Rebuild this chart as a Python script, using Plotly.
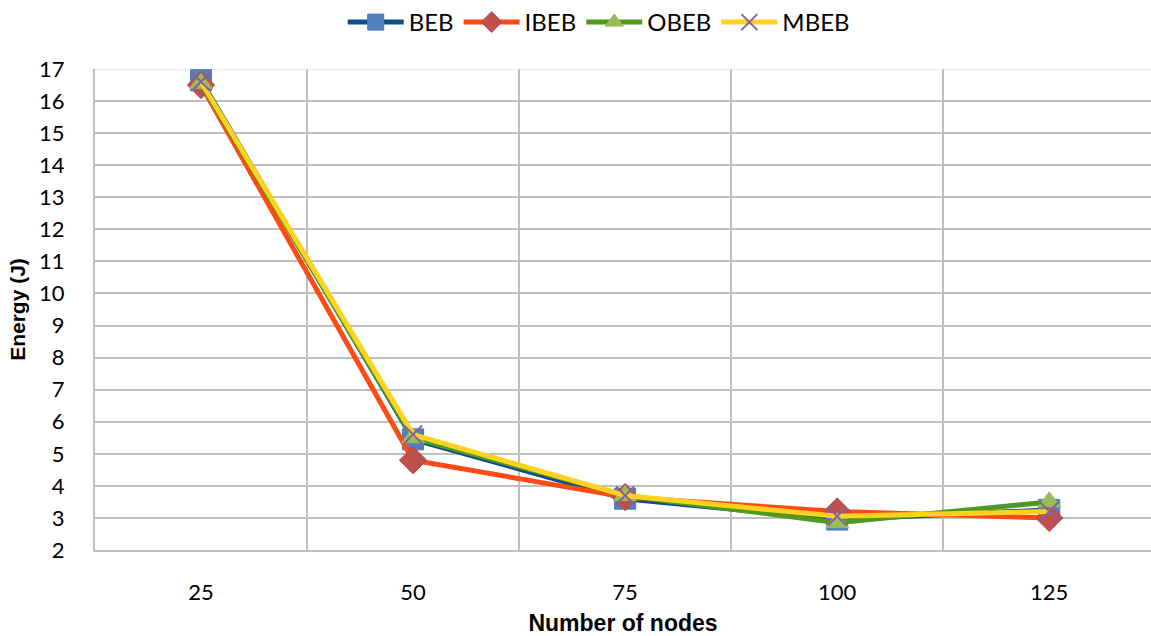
import plotly.graph_objects as go

categories = ["25", "50", "75", "100", "125"]
beb = [16.65, 5.45, 3.6, 2.95, 3.25]
ibeb = [16.5, 4.8, 3.65, 3.2, 3.0]
obeb = [16.55, 5.5, 3.7, 2.85, 3.5]
mbeb = [16.6, 5.6, 3.7, 3.05, 3.2]
y_ticks = list(range(2, 18))

xpos = list(range(len(categories)))

fig = go.Figure()
fig.add_trace(go.Scatter(x=xpos, y=beb, name="BEB", mode="lines+markers",
                         line=dict(color="#0E4C8E", width=5),
                         marker=dict(symbol="square", size=21, color="#4F81BD",
                                     line=dict(color="#4A7AB5", width=1))))
fig.add_trace(go.Scatter(x=xpos, y=ibeb, name="IBEB", mode="lines+markers",
                         line=dict(color="#FF4A14", width=5),
                         marker=dict(symbol="diamond", size=21, color="#C0504D",
                                     line=dict(color="#B94A48", width=1))))
fig.add_trace(go.Scatter(x=xpos, y=obeb, name="OBEB", mode="lines+markers",
                         line=dict(color="#4F9A1C", width=5),
                         marker=dict(symbol="triangle-up", size=20, color="#9BBB59",
                                     line=dict(color="#9BBB59", width=1))))
fig.add_trace(go.Scatter(x=xpos, y=mbeb, name="MBEB", mode="lines+markers",
                         line=dict(color="#FFD21F", width=5),
                         marker=dict(symbol="x-thin", size=18, color="#8064A2",
                                     line=dict(color="#8064A2", width=2))))

fig.add_shape(type="line", xref="paper", yref="y", x0=0, x1=1, y0=17, y1=17,
              line=dict(color="#E3E3E3", width=1.5), layer="below")

fig.update_layout(
    width=1151, height=636,
    margin=dict(l=95, r=0, t=69, b=86),
    paper_bgcolor="white", plot_bgcolor="white",
    font=dict(family="Lato, Calibri, sans-serif", size=22, color="#000000"),
    showlegend=True,
    legend=dict(orientation="h", x=0.477, xanchor="center", y=1.0, yref="container",
                yanchor="top", font=dict(size=24), itemwidth=56, tracegroupgap=0),
    xaxis=dict(
        range=[-0.5, 4.48], tickmode="array", tickvals=xpos, ticktext=categories,
        showgrid=False, zeroline=False, showline=True, linecolor="#BFBFBF", linewidth=2,
        ticks="", ticklabelstandoff=22,
        minor=dict(tickmode="array", tickvals=[0.5, 1.5, 2.5, 3.5], showgrid=True,
                   gridcolor="#BFBFBF", gridwidth=2, ticks=""),
        title=dict(text="<b>Number of nodes</b>", font=dict(family="Liberation Sans, Arial, sans-serif", size=23), standoff=10),
    ),
    yaxis=dict(
        range=[2, 17], tickmode="array", tickvals=y_ticks,
        showgrid=False, zeroline=False, showline=True, linecolor="#BFBFBF", linewidth=2,
        ticks="", ticklabelstandoff=24,
        minor=dict(tickmode="array", tickvals=list(range(3, 17)), showgrid=True,
                   gridcolor="#BFBFBF", gridwidth=2, ticks=""),
        title=dict(text="<b>Energy (J)</b>", font=dict(family="Liberation Sans, Arial, sans-serif", size=21), standoff=8),
    ),
)

fig.write_html("out.html")
